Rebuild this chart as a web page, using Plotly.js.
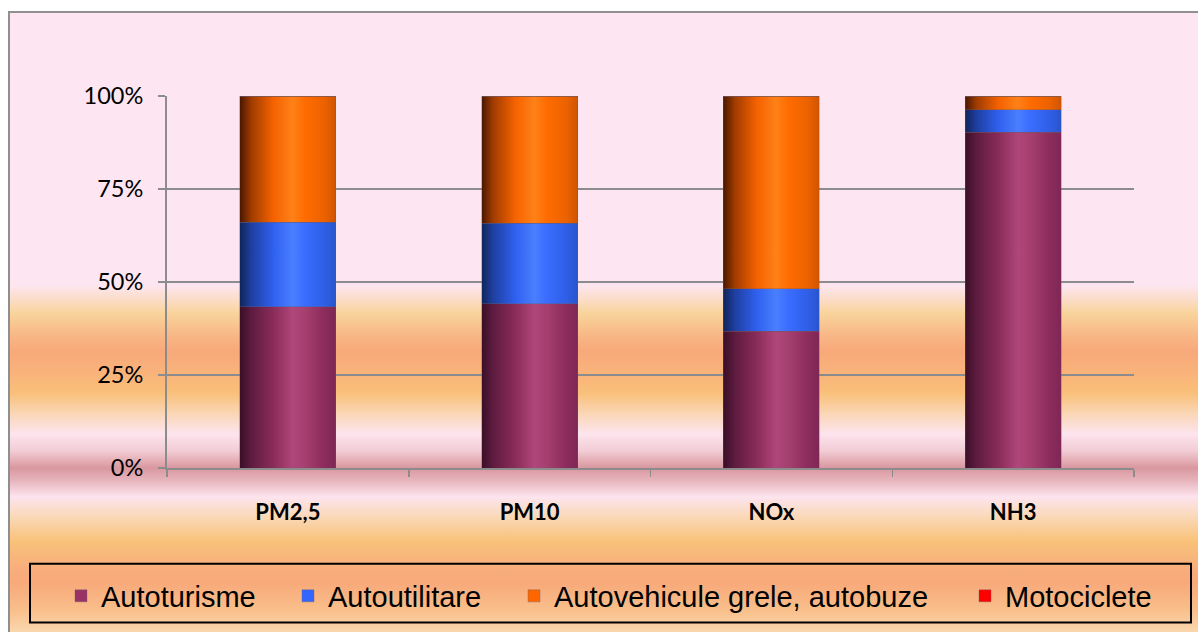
<!DOCTYPE html>
<html><head><meta charset="utf-8">
<script src="https://cdn.plot.ly/plotly-3.0.1.min.js"></script>
<style>
html,body{margin:0;padding:0;background:#fff;}
#wrap{position:relative;width:1198px;height:632px;overflow:hidden;}
#bg{position:absolute;left:8px;top:11px;width:1200px;height:630px;border-left:2px solid #8f8f8f;border-top:2px solid #8f8f8f;
background:linear-gradient(to bottom,
 #fde6f1 0px, #fde6f1 272px, #fbdcc4 288px, #f9d49c 300px, #f8b484 325px, #f8a97a 338px, #f9b47a 362px, #f9c07a 380px,
 #fad6b4 400px, #fde4ee 421px, #f2ccd4 438px, #d9979f 455px, #e8b6be 468px, #fde4ee 484px, #fad9ba 503px,
 #f9c27a 528px, #f8ae7c 556px, #f8a97a 570px, #f9c08c 598px, #fad8b0 620px);}
#chart{position:absolute;left:0;top:0;width:1198px;height:632px;}
</style></head>
<body>
<div id="wrap"><div id="bg"></div><div id="chart"></div></div>
<script>
const categories = ['PM2,5', 'PM10', 'NOx', 'NH3'];
const autoturisme = [43.4, 44.2, 36.7, 90.2];
const autoutilitare = [22.6, 21.6, 11.5, 6.1];
const autovehiculeGrele = [34.0, 34.2, 51.8, 3.7];
const motociclete = [0, 0, 0, 0];
const seriesNames = ['Autoturisme', 'Autoutilitare', 'Autovehicule grele, autobuze', 'Motociclete'];
const seriesColors = ['#993366', '#3366ff', '#ff6600', '#ff0000'];
const yTickVals = [0, 25, 50, 75, 100];
const yTickText = ['0%', '25%', '50%', '75%', '100%'];

const seriesValues = [autoturisme, autoutilitare, autovehiculeGrele, motociclete];
const legendIds = ['legend', 'legend2', 'legend3', 'legend4'];

const traces = seriesValues.map((vals, i) => ({
  type: 'bar',
  x: categories,
  y: vals,
  name: seriesNames[i],
  legend: legendIds[i],
  marker: {color: seriesColors[i], line: {color: 'rgba(110,90,100,0.45)', width: 0.8}},
  hoverinfo: 'none'
}));

const L = 167, R = 1134, T = 96, B = 469;
const px = v => (v - L) / (R - L);
const py = v => (B - v) / (B - T);

const legendTextStarts = [101, 328, 554, 1005];
const legendFont = {family: '"Liberation Sans", Arial, sans-serif', size: 29, color: '#000'};
const layout = {
  width: 1198, height: 632,
  margin: {l: L, r: 1198 - R, t: T, b: 632 - B},
  paper_bgcolor: 'rgba(0,0,0,0)',
  plot_bgcolor: 'rgba(0,0,0,0)',
  barmode: 'stack',
  bargap: 0.603,
  xaxis: {
    showline: true, linecolor: '#8c8c8c', linewidth: 2,
    ticks: 'outside', tickson: 'boundaries', ticklen: 7, tickcolor: '#8c8c8c', tickwidth: 1.5,
    tickfont: {family: 'Lato, sans-serif', size: 22, color: '#000', weight: 'bold'},
    ticklabelstandoff: 24,
    showgrid: false, zeroline: false, fixedrange: true
  },
  yaxis: {
    range: [0, 100],
    tickvals: yTickVals, ticktext: yTickText,
    showline: true, linecolor: '#8c8c8c', linewidth: 2,
    ticks: 'outside', ticklen: 7, tickcolor: '#8c8c8c', tickwidth: 1.5,
    showgrid: true, gridcolor: '#8c8c8c', gridwidth: 2,
    zeroline: false,
    tickfont: {family: 'Lato, sans-serif', size: 23.5, color: '#000'},
    ticklabelstandoff: 10, fixedrange: true
  },
  shapes: [{
    type: 'rect', xref: 'paper', yref: 'paper',
    x0: px(30), x1: px(1191), y0: py(624), y1: py(565),
    line: {color: '#000', width: 2}, fillcolor: 'rgba(0,0,0,0)'
  }],
  showlegend: true
};
legendIds.forEach((id, i) => {
  layout[id] = {
    x: px(legendTextStarts[i] - 40), xanchor: 'left',
    y: py(596), yanchor: 'middle',
    orientation: 'h', bgcolor: 'rgba(0,0,0,0)', borderwidth: 0,
    font: legendFont
  };
});

const gradStops = [
  [[0,'#3a0f26'],[0.12,'#5e1b40'],[0.35,'#8a2c5a'],[0.55,'#b0467a'],[0.68,'#a53f70'],[0.88,'#8c2c5c'],[1,'#7e2756']],
  [[0,'#0f255a'],[0.12,'#1f3fa0'],[0.35,'#2f60ef'],[0.55,'#4a7fff'],[0.68,'#3a6cff'],[0.88,'#2f5fe6'],[1,'#2954cc']],
  [[0,'#4a1700'],[0.12,'#a03c00'],[0.35,'#f56200'],[0.55,'#ff8118'],[0.68,'#ff6c00'],[0.88,'#ec6200'],[1,'#d05400']],
  [[0,'#600000'],[0.35,'#ee0000'],[0.55,'#ff3030'],[1,'#d00000']]
];

Plotly.newPlot('chart', traces, layout, {displayModeBar: false, staticPlot: true}).then(gd => {
  const NS = 'http://www.w3.org/2000/svg';
  const svg = gd.querySelector('svg.main-svg');
  let defs = svg.querySelector('defs');
  if (!defs) { defs = document.createElementNS(NS, 'defs'); svg.insertBefore(defs, svg.firstChild); }
  gradStops.forEach((stops, i) => {
    const g = document.createElementNS(NS, 'linearGradient');
    g.setAttribute('id', 'bargrad' + i);
    g.setAttribute('x1', '0'); g.setAttribute('x2', '1'); g.setAttribute('y1', '0'); g.setAttribute('y2', '0');
    stops.forEach(s => {
      const st = document.createElementNS(NS, 'stop');
      st.setAttribute('offset', s[0]); st.setAttribute('stop-color', s[1]);
      g.appendChild(st);
    });
    defs.appendChild(g);
  });
  const traceGroups = gd.querySelectorAll('.barlayer .trace');
  traceGroups.forEach((tg, i) => {
    tg.querySelectorAll('.point path').forEach(p => { p.style.fill = 'url(#bargrad' + i + ')'; });
  });
});
</script>
</body></html>
